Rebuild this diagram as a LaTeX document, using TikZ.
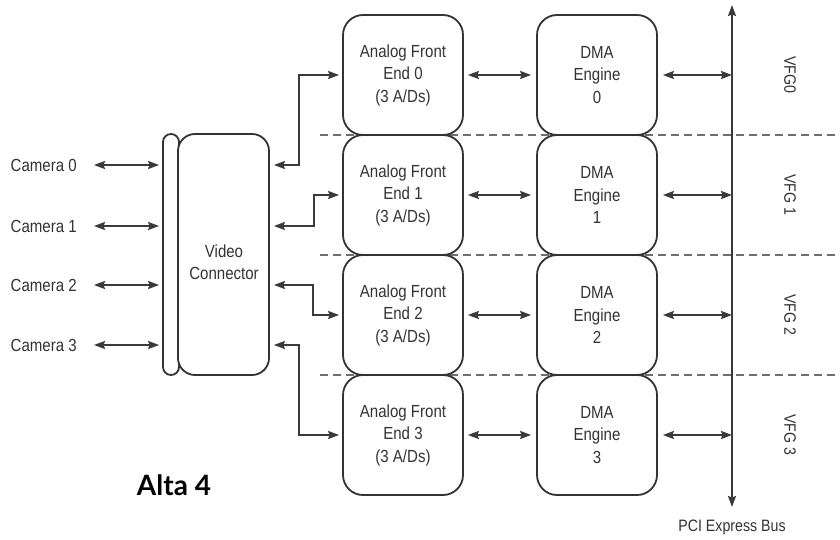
\documentclass[tikz,border=0pt]{standalone}
\usepackage{fontspec}
\setmainfont[FakeStretch=0.86]{Liberation Sans}
\newfontfamily\titlefont{Lato}
\usetikzlibrary{arrows.meta}

\definecolor{linec}{HTML}{333333}
\definecolor{arrowc}{HTML}{3A3A3A}
\definecolor{textc}{HTML}{333333}
\definecolor{sepc}{HTML}{6E6E6E}

\begin{document}
\begin{tikzpicture}[
  x=1pt, y=-1pt,
  tip/.tip={Stealth[length=11pt,width=8pt,inset=1.5pt]},
  box/.style={draw=linec, line width=1.8pt, rounded corners=20pt,
    minimum width=120pt, minimum height=120pt, fill=white,
    align=center, text=textc, inner sep=0pt,
    font=\fontsize{17.5}{22.5}\selectfont},
  lbl/.style={text=textc, inner sep=0pt, font=\fontsize{17.5}{22.5}\selectfont},
  small/.style={text=textc, inner sep=0pt, font=\fontsize{16.5}{20}\selectfont},
  biarrow/.style={draw=arrowc, line width=1.8pt, tip-tip},
  lane/.style={draw=sepc, line width=1.5pt, dash pattern=on 8pt off 5pt},
]
% canvas
\fill[white] (0,0) rectangle (840,540);
\useasboundingbox (0,0) rectangle (840,540);

% lane separators (behind the boxes)
\coordinate (s1) at (320,135);
\coordinate (s2) at (320,255);
\coordinate (s3) at (320,375);
\draw[lane] (s1) -- (s1 -| 840,0);
\draw[lane] (s2) -- (s2 -| 840,0);
\draw[lane] (s3) -- (s3 -| 840,0);

% camera inputs
\node[lbl, anchor=east] (cam0) at (77,165) {Camera 0};
\node[lbl, anchor=east] (cam1) at (77,226) {Camera 1};
\node[lbl, anchor=east] (cam2) at (77,285) {Camera 2};
\node[lbl, anchor=east] (cam3) at (77,345) {Camera 3};

% connector pin strip and video connector
\node[draw=linec, line width=1.8pt, rounded corners=8pt, fill=white,
      minimum width=16pt, minimum height=241pt, inner sep=0pt] (bar) at (171,254.5) {};
\node[draw=linec, line width=1.8pt, rounded corners=17pt, fill=white,
      minimum width=91pt, minimum height=241pt, inner sep=0pt] (vc) at (223.5,254.5) {};
\node[lbl, align=center] (vctext) at (224,262) {Video\\Connector};

% analog front ends
\node[box] (afe0) at (403,75)  {Analog Front\\End 0\\(3 A/Ds)};
\node[box] (afe1) at (403,195) {Analog Front\\End 1\\(3 A/Ds)};
\node[box] (afe2) at (403,315) {Analog Front\\End 2\\(3 A/Ds)};
\node[box] (afe3) at (403,435) {Analog Front\\End 3\\(3 A/Ds)};

% DMA engines
\node[box] (dma0) at (597,75)  {DMA\\Engine\\0};
\node[box] (dma1) at (597,195) {DMA\\Engine\\1};
\node[box] (dma2) at (597,315) {DMA\\Engine\\2};
\node[box] (dma3) at (597,435) {DMA\\Engine\\3};

% PCI Express bus
\coordinate (bustop) at (732,5);
\coordinate (busbot) at (732,507);
\draw[biarrow] (bustop) -- (busbot);
\node[small] (pci) at (732,527) {PCI Express Bus};

% virtual frame grabber labels
\node[small, rotate=-90] (vfg0) at (790,75)  {VFG0};
\node[small, rotate=-90] (vfg1) at (790,195) {VFG 1};
\node[small, rotate=-90] (vfg2) at (790,315) {VFG 2};
\node[small, rotate=-90] (vfg3) at (790,435) {VFG 3};

% cameras to connector strip
\foreach \i in {0,...,3}{
  \draw[biarrow, shorten <=17pt, shorten >=3pt] (cam\i.east) -- (cam\i.east -| bar.west);
}

% connector to analog front ends
\draw[biarrow] ([xshift=4pt]vc.east |- cam0) -- ++(25pt,0) |- ([xshift=-3pt]afe0.west);
\draw[biarrow] ([xshift=4pt]vc.east |- cam1) -- ++(40pt,0) |- ([xshift=-3pt]afe1.west);
\draw[biarrow] ([xshift=4pt]vc.east |- cam2) -- ++(39pt,0) |- ([xshift=-3pt]afe2.west);
\draw[biarrow] ([xshift=4pt]vc.east |- cam3) -- ++(25pt,0) |- ([xshift=-3pt]afe3.west);

% front ends to DMA engines, DMA engines to bus
\foreach \i in {0,...,3}{
  \draw[biarrow, shorten <=4pt, shorten >=5pt] (afe\i.east) -- (dma\i.west);
  \draw[biarrow, shorten <=5pt] (dma\i.east) -- (dma\i.east -| bustop);
}

% product name
\node[text=black, inner sep=0pt, font=\titlefont\bfseries\fontsize{28}{34}\selectfont]
  (title) at (174,485) {Alta 4};
\end{tikzpicture}
\end{document}
